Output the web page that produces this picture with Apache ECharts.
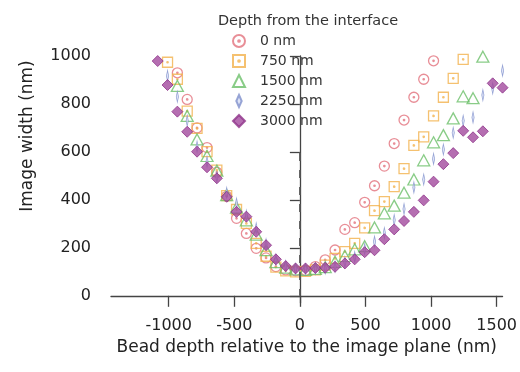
<!DOCTYPE html>
<html><head><meta charset="utf-8">
<script src="https://cdn.jsdelivr.net/npm/echarts@6/dist/echarts.min.js"></script>
<style>html,body{margin:0;padding:0;background:#fff}#c{width:520px;height:372px}</style>
</head><body><div id="c"></div>
<script>
// bead depth positions (nm), shared by all series
const xs = [-1084,-1009,-934,-859,-784,-708,-633,-558,-483,-408,-333,-258,-183,-108,-33,
  43,118,193,268,343,418,494,569,644,719,794,869,944,1019,1094,1169,1245,1320,1395,1470,1545];
const seriesNames = ['0 nm','750 nm','1500 nm','2250 nm','3000 nm'];
const w0 = [null,null,930,819,700,618,515,415,323,260,198,158,122,108,104,
  106,122,150,191,277,305,390,459,541,635,733,828,903,980,null,null,null,null,null,null,null];
const w750 = [null,974,903,770,698,601,524,418,360,302,219,165,120,104,100,
  102,108,128,156,184,219,283,355,393,455,530,627,663,750,828,907,986,null,null,null,null];
const w1500 = [null,null,875,750,652,583,522,420,368,315,255,190,140,118,110,
  108,112,120,142,166,194,207,285,344,376,430,485,565,640,670,740,832,824,997,null,null];
const w2250 = [null,917,830,730,622,559,495,430,385,335,281,215,150,124,112,
  111,113,115,122,140,162,195,226,262,316,362,452,485,571,610,680,730,744,837,865,939];
const w3000 = [979,879,768,684,601,536,490,413,350,330,267,211,152,124,114,
  114,116,117,121,135,152,182,190,236,277,312,350,398,476,549,595,688,661,686,886,868];
const xTicks = [-1000,-500,0,500,1000,1500];
const yTicks = [0,200,400,600,800,1000];
const guideX = 0;
const guideY = [0, 595];

function pts(ys){ const o=[]; ys.forEach((v,i)=>{ if(v!==null) o.push([xs[i],v]); }); return o; }

const FONT = 'DejaVu Sans';
const DOT = 'M10,8.6A1.4,1.4 0 1,1 10,11.4A1.4,1.4 0 1,1 10,8.6Z';
const CIRCLE_DOT = 'path://M10,0A10,10 0 1,1 10,20A10,10 0 1,1 10,0Z' + DOT;
const SQUARE_DOT = 'path://M0,0L20,0L20,20L0,20Z' + DOT;
const THIN_DIAMOND = 'path://M0,0L4.5,10L0,20L-4.5,10Z';
const chart = echarts.init(document.getElementById('c'), null, {renderer:'canvas'});
const hollow = (c, w) => ({color:'rgba(255,255,255,0)', borderColor:c, borderWidth:w||1.3});
const plain = v => String(v);
chart.setOption({
  animation:false,
  backgroundColor:'#fff',
  title:{text:'Depth from the interface', left:303, top:9, textAlign:'center',
    textStyle:{fontFamily:FONT, fontSize:14.5, fontWeight:'normal', color:'#333'}},
  legend:{orient:'vertical', left:227, top:29, itemWidth:12, itemHeight:12, itemGap:6,
    textStyle:{fontFamily:FONT, fontSize:14, color:'#333', lineHeight:14, padding:[0,0,0,10]},
    data:seriesNames},
  grid:{left:111, right:17, top:56, bottom:69},
  xAxis:{type:'value', min:-1440, max:1545,
    name:'Bead depth relative to the image plane (nm)', nameLocation:'middle', nameGap:24,
    nameTextStyle:{fontFamily:FONT, fontSize:17, color:'#222'},
    axisLine:{show:true, lineStyle:{color:'#444', width:1.3}},
    axisTick:{show:true, customValues:xTicks, length:11, lineStyle:{color:'#444', width:1.3}},
    axisLabel:{customValues:xTicks, formatter:plain, margin:15, fontFamily:FONT, fontSize:16, color:'#222'},
    splitLine:{show:false}},
  yAxis:{type:'value', min:-30, max:1000,
    axisLine:{show:true, lineStyle:{color:'#444', width:1.3}},
    axisTick:{show:true, customValues:yTicks, length:10, lineStyle:{color:'#444', width:1.3}},
    axisLabel:{customValues:yTicks, formatter:plain, margin:20, fontFamily:FONT, fontSize:16, color:'#222'},
    splitLine:{show:false}},
  graphic:[{type:'text', x:28, y:136, rotation:Math.PI/2,
    style:{text:'Image width (nm)', font:'17px "DejaVu Sans"', fill:'#222', align:'center', verticalAlign:'middle'}}],
  series:[
    {name:seriesNames[0], type:'scatter', data:pts(w0), symbol:CIRCLE_DOT, symbolSize:10,
      itemStyle:hollow('#e2727d'),
      markLine:{silent:true, symbol:'none', label:{show:false},
        lineStyle:{color:'#555', width:1.8, type:[8,9]},
        data:[[{coord:[guideX,guideY[1]]},{coord:[guideX,guideY[0]]}]]}},
    {name:seriesNames[1], type:'scatter', data:pts(w750), symbol:SQUARE_DOT, symbolSize:10,
      itemStyle:hollow('#f2b24c')},
    {name:seriesNames[2], type:'scatter', data:pts(w1500), symbol:'triangle', symbolSize:[12,11],
      itemStyle:hollow('#6cbf69')},
    {name:seriesNames[3], type:'scatter', data:pts(w2250), symbol:THIN_DIAMOND, symbolKeepAspect:true,
      symbolSize:[5,11],
      itemStyle:{color:'#d6dcf4', borderColor:'#8090cc', borderWidth:1}},
    {name:seriesNames[4], type:'scatter', data:pts(w3000), symbol:'diamond', symbolSize:11,
      itemStyle:{color:'#a24a9e', borderColor:'#8e3389', borderWidth:1}}
  ]
});
</script></body></html>
